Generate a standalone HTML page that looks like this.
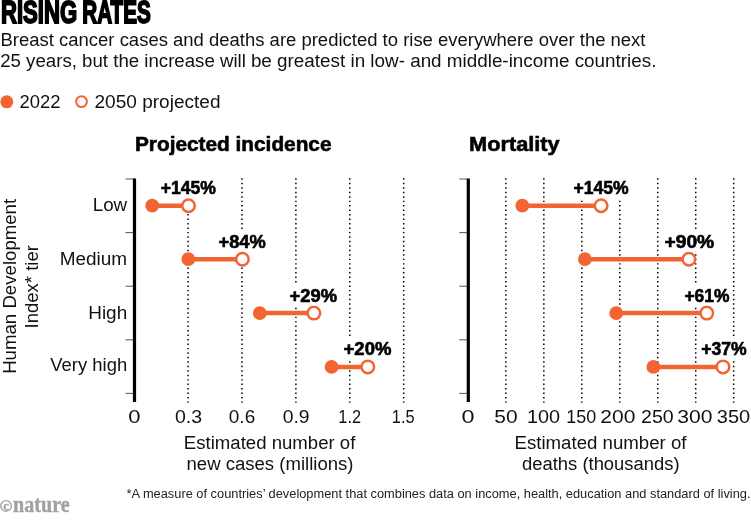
<!DOCTYPE html>
<html><head><meta charset="utf-8"><style>
html,body{margin:0;padding:0;background:#fff;width:751px;height:521px;overflow:hidden}
svg{display:block;font-family:"Liberation Sans", sans-serif;will-change:transform}
</style></head><body>
<svg width="751" height="521" viewBox="0 0 751 521">
<text x="0.9" y="23.0" font-size="30.8" font-weight="bold" text-anchor="start" fill="#000" textLength="76.3" lengthAdjust="spacingAndGlyphs" stroke="#000" stroke-width="1.8" stroke-linejoin="miter">RISING</text>
<text x="82.2" y="23.0" font-size="30.8" font-weight="bold" text-anchor="start" fill="#000" textLength="68.6" lengthAdjust="spacingAndGlyphs" stroke="#000" stroke-width="1.8" stroke-linejoin="miter">RATES</text>
<text x="0.5" y="45.7" font-size="18" font-weight="normal" text-anchor="start" fill="#111" textLength="645.0" lengthAdjust="spacingAndGlyphs">Breast cancer cases and deaths are predicted to rise everywhere over the next</text>
<text x="0.2" y="66.8" font-size="18" font-weight="normal" text-anchor="start" fill="#111" textLength="245.7" lengthAdjust="spacingAndGlyphs">25 years, but the increase will</text>
<text x="250.9" y="66.8" font-size="18" font-weight="normal" text-anchor="start" fill="#111" textLength="405.5" lengthAdjust="spacingAndGlyphs">be greatest in low- and middle-income countries.</text>
<circle cx="6.8" cy="101.8" r="6.5" fill="#f26532"/>
<text x="19.5" y="108.2" font-size="18" font-weight="normal" text-anchor="start" fill="#111" textLength="41" lengthAdjust="spacingAndGlyphs">2022</text>
<circle cx="81.5" cy="101.6" r="5.4" fill="#fff" stroke="#f26532" stroke-width="2"/>
<text x="94.5" y="108.2" font-size="18" font-weight="normal" text-anchor="start" fill="#111" textLength="126" lengthAdjust="spacingAndGlyphs">2050 projected</text>
<text x="135" y="151.3" font-size="20.5" font-weight="bold" text-anchor="start" fill="#000" textLength="196.5" lengthAdjust="spacingAndGlyphs" stroke="#000" stroke-width="0.6" stroke-linejoin="miter">Projected incidence</text>
<text x="469" y="151.3" font-size="20.5" font-weight="bold" text-anchor="start" fill="#000" textLength="90.7" lengthAdjust="spacingAndGlyphs" stroke="#000" stroke-width="0.6" stroke-linejoin="miter">Mortality</text>
<line x1="188.10" y1="178.35" x2="188.10" y2="402.7" stroke="#000" stroke-width="1.5" stroke-dasharray="1.45 3.012"/>
<line x1="242.00" y1="178.35" x2="242.00" y2="402.7" stroke="#000" stroke-width="1.5" stroke-dasharray="1.45 3.012"/>
<line x1="295.90" y1="178.35" x2="295.90" y2="402.7" stroke="#000" stroke-width="1.5" stroke-dasharray="1.45 3.012"/>
<line x1="349.80" y1="178.35" x2="349.80" y2="402.7" stroke="#000" stroke-width="1.5" stroke-dasharray="1.45 3.012"/>
<line x1="403.70" y1="178.35" x2="403.70" y2="402.7" stroke="#000" stroke-width="1.5" stroke-dasharray="1.45 3.012"/>
<line x1="125.5" y1="179.0" x2="134.5" y2="179.0" stroke="#555" stroke-width="1"/>
<line x1="125.5" y1="232.6" x2="134.5" y2="232.6" stroke="#555" stroke-width="1"/>
<line x1="125.5" y1="286.2" x2="134.5" y2="286.2" stroke="#555" stroke-width="1"/>
<line x1="125.5" y1="339.8" x2="134.5" y2="339.8" stroke="#555" stroke-width="1"/>
<line x1="125.5" y1="393.4" x2="134.5" y2="393.4" stroke="#555" stroke-width="1"/>
<line x1="134.5" y1="178.6" x2="134.5" y2="402" stroke="#000" stroke-width="3.2"/>
<text x="134.45" y="423.3" font-size="18" font-weight="normal" text-anchor="middle" fill="#111" textLength="12.27" lengthAdjust="spacingAndGlyphs">0</text>
<text x="188.55" y="423.3" font-size="18" font-weight="normal" text-anchor="middle" fill="#111" textLength="27.17" lengthAdjust="spacingAndGlyphs">0.3</text>
<text x="242.0" y="423.3" font-size="18" font-weight="normal" text-anchor="middle" fill="#111" textLength="26.4" lengthAdjust="spacingAndGlyphs">0.6</text>
<text x="296.1" y="423.3" font-size="18" font-weight="normal" text-anchor="middle" fill="#111" textLength="26.85" lengthAdjust="spacingAndGlyphs">0.9</text>
<text x="349.65" y="423.3" font-size="18" font-weight="normal" text-anchor="middle" fill="#111" textLength="22.7" lengthAdjust="spacingAndGlyphs">1.2</text>
<text x="403.2" y="423.3" font-size="18" font-weight="normal" text-anchor="middle" fill="#111" textLength="22.7" lengthAdjust="spacingAndGlyphs">1.5</text>
<line x1="152.2" y1="205.7" x2="188.5" y2="205.7" stroke="#f26532" stroke-width="4.5"/>
<circle cx="152.2" cy="205.7" r="6.9" fill="#f26532"/>
<circle cx="188.5" cy="205.7" r="6.25" fill="#fff" stroke="#f26532" stroke-width="2.5"/>
<rect x="158.5" y="176.5" width="59.5" height="21.5" fill="#fff"/>
<text x="188.25" y="194.2" font-size="17.6" font-weight="bold" text-anchor="middle" fill="#000" textLength="55.2" lengthAdjust="spacingAndGlyphs" stroke="#000" stroke-width="0.6" stroke-linejoin="miter">+145%</text>
<line x1="188.3" y1="259.2" x2="242.4" y2="259.2" stroke="#f26532" stroke-width="4.5"/>
<circle cx="188.3" cy="259.2" r="6.9" fill="#f26532"/>
<circle cx="242.4" cy="259.2" r="6.25" fill="#fff" stroke="#f26532" stroke-width="2.5"/>
<rect x="216.4" y="230.0" width="51.5" height="21.5" fill="#fff"/>
<text x="242.15" y="248.0" font-size="17.6" font-weight="bold" text-anchor="middle" fill="#000" textLength="47.2" lengthAdjust="spacingAndGlyphs" stroke="#000" stroke-width="0.6" stroke-linejoin="miter">+84%</text>
<line x1="259.8" y1="313.1" x2="313.9" y2="313.1" stroke="#f26532" stroke-width="4.5"/>
<circle cx="259.8" cy="313.1" r="6.9" fill="#f26532"/>
<circle cx="313.9" cy="313.1" r="6.25" fill="#fff" stroke="#f26532" stroke-width="2.5"/>
<rect x="287.40000000000003" y="283.90000000000003" width="51.8" height="21.5" fill="#fff"/>
<text x="313.3" y="301.6" font-size="17.6" font-weight="bold" text-anchor="middle" fill="#000" textLength="47.5" lengthAdjust="spacingAndGlyphs" stroke="#000" stroke-width="0.6" stroke-linejoin="miter">+29%</text>
<line x1="331.6" y1="366.9" x2="367.8" y2="366.9" stroke="#f26532" stroke-width="4.5"/>
<circle cx="331.6" cy="366.9" r="6.9" fill="#f26532"/>
<circle cx="367.8" cy="366.9" r="6.25" fill="#fff" stroke="#f26532" stroke-width="2.5"/>
<rect x="341.4" y="337.7" width="52.2" height="21.5" fill="#fff"/>
<text x="367.5" y="355.29999999999995" font-size="17.6" font-weight="bold" text-anchor="middle" fill="#000" textLength="47.900000000000006" lengthAdjust="spacingAndGlyphs" stroke="#000" stroke-width="0.6" stroke-linejoin="miter">+20%</text>
<line x1="505.87" y1="178.35" x2="505.87" y2="402.7" stroke="#000" stroke-width="1.5" stroke-dasharray="1.45 3.012"/>
<line x1="543.84" y1="178.35" x2="543.84" y2="402.7" stroke="#000" stroke-width="1.5" stroke-dasharray="1.45 3.012"/>
<line x1="581.81" y1="178.35" x2="581.81" y2="402.7" stroke="#000" stroke-width="1.5" stroke-dasharray="1.45 3.012"/>
<line x1="619.78" y1="178.35" x2="619.78" y2="402.7" stroke="#000" stroke-width="1.5" stroke-dasharray="1.45 3.012"/>
<line x1="657.75" y1="178.35" x2="657.75" y2="402.7" stroke="#000" stroke-width="1.5" stroke-dasharray="1.45 3.012"/>
<line x1="695.72" y1="178.35" x2="695.72" y2="402.7" stroke="#000" stroke-width="1.5" stroke-dasharray="1.45 3.012"/>
<line x1="733.69" y1="178.35" x2="733.69" y2="402.7" stroke="#000" stroke-width="1.5" stroke-dasharray="1.45 3.012"/>
<line x1="459.3" y1="179.0" x2="468.3" y2="179.0" stroke="#555" stroke-width="1"/>
<line x1="459.3" y1="232.6" x2="468.3" y2="232.6" stroke="#555" stroke-width="1"/>
<line x1="459.3" y1="286.2" x2="468.3" y2="286.2" stroke="#555" stroke-width="1"/>
<line x1="459.3" y1="339.8" x2="468.3" y2="339.8" stroke="#555" stroke-width="1"/>
<line x1="459.3" y1="393.4" x2="468.3" y2="393.4" stroke="#555" stroke-width="1"/>
<line x1="468.3" y1="178.6" x2="468.3" y2="402" stroke="#000" stroke-width="3.2"/>
<text x="468.05" y="423.3" font-size="18" font-weight="normal" text-anchor="middle" fill="#111" textLength="13.0" lengthAdjust="spacingAndGlyphs">0</text>
<text x="505.9" y="423.3" font-size="18" font-weight="normal" text-anchor="middle" fill="#111" textLength="23.3" lengthAdjust="spacingAndGlyphs">50</text>
<text x="543.55" y="423.3" font-size="18" font-weight="normal" text-anchor="middle" fill="#111" textLength="33.1" lengthAdjust="spacingAndGlyphs">100</text>
<text x="581.3" y="423.3" font-size="18" font-weight="normal" text-anchor="middle" fill="#111" textLength="29.9" lengthAdjust="spacingAndGlyphs">150</text>
<text x="617.8" y="423.3" font-size="18" font-weight="normal" text-anchor="middle" fill="#111" textLength="35.1" lengthAdjust="spacingAndGlyphs">200</text>
<text x="657.4" y="423.3" font-size="18" font-weight="normal" text-anchor="middle" fill="#111" textLength="32.6" lengthAdjust="spacingAndGlyphs">250</text>
<text x="694.85" y="423.3" font-size="18" font-weight="normal" text-anchor="middle" fill="#111" textLength="35.2" lengthAdjust="spacingAndGlyphs">300</text>
<text x="733.5" y="423.3" font-size="18" font-weight="normal" text-anchor="middle" fill="#111" textLength="33.4" lengthAdjust="spacingAndGlyphs">350</text>
<line x1="522.3" y1="205.7" x2="601.1" y2="205.7" stroke="#f26532" stroke-width="4.5"/>
<circle cx="522.3" cy="205.7" r="6.9" fill="#f26532"/>
<circle cx="601.1" cy="205.7" r="6.25" fill="#fff" stroke="#f26532" stroke-width="2.5"/>
<rect x="571.3" y="176.5" width="59.4" height="21.5" fill="#fff"/>
<text x="601.0" y="194.2" font-size="17.6" font-weight="bold" text-anchor="middle" fill="#000" textLength="55.1" lengthAdjust="spacingAndGlyphs" stroke="#000" stroke-width="0.6" stroke-linejoin="miter">+145%</text>
<line x1="584.9" y1="259.2" x2="688.9" y2="259.2" stroke="#f26532" stroke-width="4.5"/>
<circle cx="584.9" cy="259.2" r="6.9" fill="#f26532"/>
<circle cx="688.9" cy="259.2" r="6.25" fill="#fff" stroke="#f26532" stroke-width="2.5"/>
<rect x="662.3000000000001" y="230.0" width="54.1" height="21.5" fill="#fff"/>
<text x="689.35" y="248.0" font-size="17.6" font-weight="bold" text-anchor="middle" fill="#000" textLength="49.800000000000004" lengthAdjust="spacingAndGlyphs" stroke="#000" stroke-width="0.6" stroke-linejoin="miter">+90%</text>
<line x1="616.2" y1="313.1" x2="706.8" y2="313.1" stroke="#f26532" stroke-width="4.5"/>
<circle cx="616.2" cy="313.1" r="6.9" fill="#f26532"/>
<circle cx="706.8" cy="313.1" r="6.25" fill="#fff" stroke="#f26532" stroke-width="2.5"/>
<rect x="682.3000000000001" y="283.90000000000003" width="49.3" height="21.5" fill="#fff"/>
<text x="706.95" y="301.6" font-size="17.6" font-weight="bold" text-anchor="middle" fill="#000" textLength="45.0" lengthAdjust="spacingAndGlyphs" stroke="#000" stroke-width="0.6" stroke-linejoin="miter">+61%</text>
<line x1="653.4" y1="366.9" x2="723.0" y2="366.9" stroke="#f26532" stroke-width="4.5"/>
<circle cx="653.4" cy="366.9" r="6.9" fill="#f26532"/>
<circle cx="723.0" cy="366.9" r="6.25" fill="#fff" stroke="#f26532" stroke-width="2.5"/>
<rect x="699.0" y="337.7" width="49.7" height="21.5" fill="#fff"/>
<text x="723.85" y="355.29999999999995" font-size="17.6" font-weight="bold" text-anchor="middle" fill="#000" textLength="45.400000000000006" lengthAdjust="spacingAndGlyphs" stroke="#000" stroke-width="0.6" stroke-linejoin="miter">+37%</text>
<text x="127.2" y="210.9" font-size="18" font-weight="normal" text-anchor="end" fill="#111" textLength="34.5" lengthAdjust="spacingAndGlyphs">Low</text>
<text x="127.2" y="264.6" font-size="18" font-weight="normal" text-anchor="end" fill="#111" textLength="67.5" lengthAdjust="spacingAndGlyphs">Medium</text>
<text x="127.2" y="319.0" font-size="18" font-weight="normal" text-anchor="end" fill="#111" textLength="39" lengthAdjust="spacingAndGlyphs">High</text>
<text x="127.2" y="371.3" font-size="18" font-weight="normal" text-anchor="end" fill="#111" textLength="77" lengthAdjust="spacingAndGlyphs">Very high</text>
<text x="269.6" y="449" font-size="18" font-weight="normal" text-anchor="middle" fill="#111" textLength="171.5" lengthAdjust="spacingAndGlyphs">Estimated number of</text>
<text x="270.0" y="469.5" font-size="18" font-weight="normal" text-anchor="middle" fill="#111" textLength="167" lengthAdjust="spacingAndGlyphs">new cases (millions)</text>
<text x="600.5" y="449" font-size="18" font-weight="normal" text-anchor="middle" fill="#111" textLength="172" lengthAdjust="spacingAndGlyphs">Estimated number of</text>
<text x="600.8" y="469.5" font-size="18" font-weight="normal" text-anchor="middle" fill="#111" textLength="157.5" lengthAdjust="spacingAndGlyphs">deaths (thousands)</text>
<g transform="translate(16.3,286.35) rotate(-90)"><text x="0" y="0" font-size="18" text-anchor="middle" fill="#111" textLength="175" lengthAdjust="spacingAndGlyphs">Human Development</text></g>
<g transform="translate(38.0,286.75) rotate(-90)"><text x="0" y="0" font-size="18" text-anchor="middle" fill="#111" textLength="83.3" lengthAdjust="spacingAndGlyphs">Index* tier</text></g>
<text x="126.5" y="498.0" font-size="12" font-weight="normal" text-anchor="start" fill="#222" textLength="624" lengthAdjust="spacingAndGlyphs">*A measure of countries’ development that combines data on income, health, education and standard of living.</text>
<circle cx="6.05" cy="505.9" r="5.3" fill="none" stroke="#9ea2a4" stroke-width="1.35"/>
<text x="6.0" y="509.5" font-family="'Liberation Serif', serif" font-size="12.5" font-weight="bold" text-anchor="middle" fill="#9ea2a4" stroke="#9ea2a4" stroke-width="0.3">c</text>
<text x="13.1" y="511.7" font-family="'Liberation Serif', serif" font-size="24" font-weight="bold" fill="#9ea2a4" stroke="#9ea2a4" stroke-width="0.4" textLength="56.5" lengthAdjust="spacingAndGlyphs">nature</text>
</svg>
</body></html>
